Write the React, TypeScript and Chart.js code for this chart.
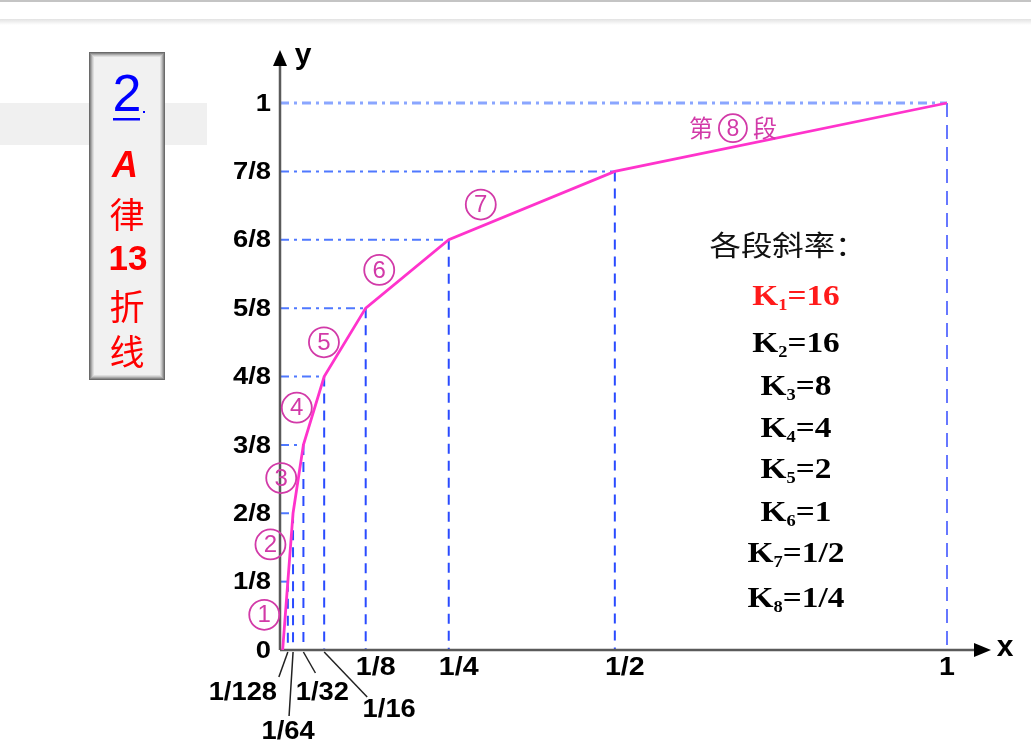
import React, { useEffect, useRef } from "react";
import { Chart, registerables } from "chart.js";

Chart.register(...registerables);

// ---- data ----
const xBreaks = [0, 1 / 128, 1 / 64, 1 / 32, 1 / 16, 1 / 8, 1 / 4, 1 / 2, 1];
const yBreaks = [0, 1 / 8, 2 / 8, 3 / 8, 4 / 8, 5 / 8, 6 / 8, 7 / 8, 1];
const yTickLabels = ["0", "1/8", "2/8", "3/8", "4/8", "5/8", "6/8", "7/8", "1"];
const xMainTicks = [1 / 8, 1 / 4, 1 / 2, 1];
const xMainLabels = ["1/8", "1/4", "1/2", "1"];
const xSmallTicks = [1 / 128, 1 / 64, 1 / 32, 1 / 16];
const xSmallLabels = ["1/128", "1/64", "1/32", "1/16"];
const segmentNames = ["1", "2", "3", "4", "5", "6", "7", "8"];
const slopeValues = ["16", "16", "8", "4", "2", "1", "1/2", "1/4"];

const SANS = '"Liberation Sans", Arial, sans-serif';
const SERIF = '"Liberation Serif", "Times New Roman", serif';
const CJK = '"Noto Sans CJK SC", sans-serif';

function txt(
  ctx: CanvasRenderingContext2D,
  s: string,
  x: number,
  y: number,
  font: string,
  color: string,
  align: CanvasTextAlign = "center",
  sx = 1
) {
  ctx.save();
  ctx.translate(x, y);
  ctx.scale(sx, 1);
  ctx.font = font;
  ctx.fillStyle = color;
  ctx.textAlign = align;
  ctx.textBaseline = "middle";
  ctx.fillText(s, 0, 0);
  ctx.restore();
}

const decorPlugin = {
  id: "decor",
  beforeDatasetsDraw(chart: any) {
    const ctx: CanvasRenderingContext2D = chart.ctx;
    const xs = chart.scales.x;
    const ys = chart.scales.y;
    const ax = chart.chartArea.left;
    const y0 = ys.getPixelForValue(0);
    ctx.save();
    // top frame lines
    ctx.fillStyle = "#c4c4c4";
    ctx.fillRect(0, 0, 1031, 2);
    const g = ctx.createLinearGradient(0, 19, 0, 25);
    g.addColorStop(0, "#e2e2e2");
    g.addColorStop(1, "#ffffff");
    ctx.fillStyle = g;
    ctx.fillRect(0, 19, 1031, 6);
    // gray band
    ctx.fillStyle = "#f0f0f0";
    ctx.fillRect(0, 103, 207, 42);
    // left panel
    const bx = 89, by = 52, bw = 76, bh = 328;
    const shades = ["#6a6a6a", "#8a8a8a", "#aaaaaa", "#c8c8c8", "#dedede"];
    shades.forEach((c, i) => {
      ctx.fillStyle = c;
      ctx.fillRect(bx + i, by + i, bw - 2 * i, bh - 2 * i);
    });
    ctx.fillStyle = "#f1f1f1";
    ctx.fillRect(bx + 5, by + 5, bw - 10, bh - 10);

    // horizontal dash-dot guides
    for (let i = 1; i < yBreaks.length; i++) {
      const py = ys.getPixelForValue(yBreaks[i]);
      const px = xs.getPixelForValue(xBreaks[i]);
      ctx.beginPath();
      ctx.setLineDash([9, 5, 3, 5]);
      ctx.strokeStyle = i === yBreaks.length - 1 ? "#8aa6ff" : "#4f78ff";
      ctx.lineWidth = i === yBreaks.length - 1 ? 3 : 2;
      ctx.moveTo(ax, py);
      ctx.lineTo(px, py);
      ctx.stroke();
    }
    // vertical dashed guides
    for (let i = 1; i < xBreaks.length; i++) {
      const py = ys.getPixelForValue(yBreaks[i]);
      const px = xs.getPixelForValue(xBreaks[i]);
      ctx.beginPath();
      ctx.setLineDash(i === xBreaks.length - 1 ? [14, 8] : [10, 7]);
      ctx.strokeStyle = i === xBreaks.length - 1 ? "#6677ff" : "#2a4bff";
      ctx.lineWidth = 2;
      ctx.moveTo(px, py);
      ctx.lineTo(px, y0);
      ctx.stroke();
    }
    ctx.setLineDash([]);
    // axes
    ctx.strokeStyle = "#5a5a5a";
    ctx.lineWidth = 2.5;
    ctx.beginPath();
    ctx.moveTo(ax, y0);
    ctx.lineTo(ax, 62);
    ctx.moveTo(ax, y0);
    ctx.lineTo(978, y0);
    ctx.stroke();
    ctx.fillStyle = "#000";
    ctx.beginPath();
    ctx.moveTo(ax, 50);
    ctx.lineTo(ax - 7, 66);
    ctx.lineTo(ax + 7, 66);
    ctx.closePath();
    ctx.fill();
    ctx.beginPath();
    ctx.moveTo(991, y0);
    ctx.lineTo(974, y0 - 7);
    ctx.lineTo(974, y0 + 7);
    ctx.closePath();
    ctx.fill();
    ctx.restore();
  },
  afterDatasetsDraw(chart: any) {
    const ctx: CanvasRenderingContext2D = chart.ctx;
    const xs = chart.scales.x;
    const ys = chart.scales.y;
    const y0 = ys.getPixelForValue(0);
    ctx.save();
    // axis names
    txt(ctx, "y", 303, 56, `bold 30px ${SANS}`, "#000");
    txt(ctx, "x", 1005, 648, `bold 30px ${SANS}`, "#000");
    // y tick labels
    yBreaks.forEach((v, i) => {
      txt(ctx, yTickLabels[i], 271, ys.getPixelForValue(v) + 1, `bold 24px ${SANS}`, "#000", "right", 1.14);
    });
    // main x ticks
    xMainTicks.forEach((v, i) => {
      const px = xs.getPixelForValue(v);
      const off = v === 1 ? 0 : 10;
      txt(ctx, xMainLabels[i], px + off, 668, `bold 26px ${SANS}`, "#000", "center", 1.1);
    });
    // small x ticks with leader lines
    const leaderEnd = [
      [-9, 677],
      [-4, 716],
      [12, 673],
      [43, 697],
    ];
    const labelPos = [
      [-45, 693],
      [-5, 732],
      [19, 693],
      [65, 710],
    ];
    ctx.strokeStyle = "#222";
    ctx.lineWidth = 1.5;
    xSmallTicks.forEach((v, i) => {
      const px = xs.getPixelForValue(v);
      ctx.beginPath();
      ctx.moveTo(px, y0 + 2);
      ctx.lineTo(px + leaderEnd[i][0], leaderEnd[i][1]);
      ctx.stroke();
      txt(ctx, xSmallLabels[i], px + labelPos[i][0], labelPos[i][1], `bold 26px ${SANS}`, "#000", "center", 1.05);
    });

    // segment circled labels
    const segOff = [
      [-21, -1],
      [-20, -3],
      [-17, -1],
      [-17, -3],
      [-21, 0],
      [-28, -4],
      [-51, -1],
    ];
    const circ = "#d23aa8";
    for (let i = 0; i < 7; i++) {
      const mx = (xs.getPixelForValue(xBreaks[i]) + xs.getPixelForValue(xBreaks[i + 1])) / 2;
      const my = (ys.getPixelForValue(yBreaks[i]) + ys.getPixelForValue(yBreaks[i + 1])) / 2;
      const cx = mx + segOff[i][0];
      const cy = my + segOff[i][1];
      ctx.beginPath();
      ctx.strokeStyle = circ;
      ctx.lineWidth = 1.8;
      ctx.arc(cx, cy, 15, 0, Math.PI * 2);
      ctx.stroke();
      txt(ctx, segmentNames[i], cx, cy + 1, `24px ${SANS}`, circ);
    }
    // 第⑧段
    {
      const mx = (xs.getPixelForValue(xBreaks[7]) + xs.getPixelForValue(xBreaks[8])) / 2;
      const my = (ys.getPixelForValue(yBreaks[7]) + ys.getPixelForValue(yBreaks[8])) / 2;
      const cx = mx - 48;
      const cy = my - 9;
      txt(ctx, "第", cx - 32, cy, `24px ${CJK}`, circ);
      ctx.beginPath();
      ctx.strokeStyle = circ;
      ctx.lineWidth = 1.8;
      ctx.arc(cx, cy, 14, 0, Math.PI * 2);
      ctx.stroke();
      txt(ctx, segmentNames[7], cx, cy + 1, `23px ${SANS}`, circ);
      txt(ctx, "段", cx + 32, cy, `24px ${CJK}`, circ);
    }

    // slopes block
    txt(ctx, "各段斜率：", 788, 245, `28px ${CJK}`, "#111", "center", 1.12);
    const kys = [298, 345, 388, 430, 471, 514, 555, 600];
    slopeValues.forEach((val, i) => {
      const color = i === 0 ? "#ff1a1a" : "#000";
      const sx = 1.15;
      ctx.save();
      ctx.font = `bold 29px ${SERIF}`;
      const wK = ctx.measureText("K").width;
      const wR = ctx.measureText("=" + val).width;
      ctx.font = `bold 16px ${SERIF}`;
      const wS = ctx.measureText(String(i + 1)).width;
      ctx.restore();
      const total = (wK + wS + wR) * sx;
      const left = 796 - total / 2;
      const y = kys[i];
      txt(ctx, "K", left, y, `bold 29px ${SERIF}`, color, "left", sx);
      txt(ctx, String(i + 1), left + wK * sx, y + 8, `bold 16px ${SERIF}`, color, "left", sx);
      txt(ctx, "=" + val, left + (wK + wS) * sx, y, `bold 29px ${SERIF}`, color, "left", sx);
    });

    // panel text
    txt(ctx, "2", 127, 97, `52px ${SANS}`, "#0000ff");
    ctx.fillStyle = "#0000ff";
    ctx.fillRect(113, 118, 27, 2.5);
    ctx.fillRect(143, 111, 2, 2);
    txt(ctx, "A", 125, 167, `italic bold 36px ${SANS}`, "#ff0000");
    txt(ctx, "律", 127, 215, `35px ${CJK}`, "#ff0000");
    txt(ctx, "13", 128, 260, `bold 35px ${SANS}`, "#ff0000");
    txt(ctx, "折", 127, 307, `35px ${CJK}`, "#ff0000");
    txt(ctx, "线", 127, 352, `35px ${CJK}`, "#ff0000");
    ctx.restore();
  },
};

export default function App() {
  const ref = useRef<HTMLCanvasElement | null>(null);
  useEffect(() => {
    if (!ref.current) return;
    const chart = new Chart(ref.current, {
      type: "line",
      data: {
        datasets: [
          {
            data: xBreaks.map((x, i) => ({ x, y: yBreaks[i] })),
            borderColor: "#ff33cc",
            borderWidth: 2.8,
            pointRadius: 0,
            tension: 0,
            clip: false as any,
          },
        ],
      },
      options: {
        responsive: false,
        animation: false,
        layout: { padding: { left: 280, right: 84, top: 103, bottom: 102 } },
        scales: {
          x: { type: "linear", min: -0.004, max: 1, display: false },
          y: { type: "linear", min: 0, max: 1, display: false },
        },
        plugins: { legend: { display: false }, tooltip: { enabled: false } },
      },
      plugins: [decorPlugin],
    });
    return () => chart.destroy();
  }, []);
  return (
    <div style={{ position: "absolute", left: 0, top: 0, width: 1031, height: 752, background: "#fff" }}>
      <canvas ref={ref} width={1031} height={752} style={{ display: "block" }} />
    </div>
  );
}
